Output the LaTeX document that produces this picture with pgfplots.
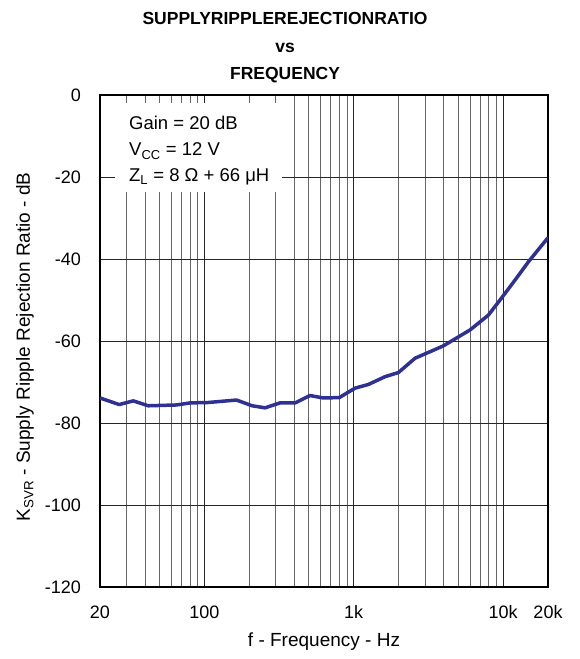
\documentclass[border=0pt]{standalone}
\usepackage{pgfplots}
\pgfplotsset{compat=1.18}
\usepackage{fontspec}
\setmainfont{Liberation Sans}
\definecolor{curve}{HTML}{2E3192}
\begin{document}
\begin{tikzpicture}
\useasboundingbox (-100pt,-72pt) rectangle (479pt,587pt);
\begin{axis}[
  at={(0pt,0pt)}, anchor=south west,
  scale only axis, width=448pt, height=492pt,
  xmode=log, xmin=20, xmax=20000, ymin=-120, ymax=0,
  log basis x=10,
  xtick={20,100,1000,10000,20000},
  xticklabels={20,100,1k,10k,20k},
  ytick={-120,-100,-80,-60,-40,-20,0},
  yticklabels={-120,-100,-80,-60,-40,-20,0},
  minor xtick={30,40,50,60,70,80,90,200,300,400,500,600,700,800,900,2000,3000,4000,5000,6000,7000,8000,9000},
  xmajorgrids, xminorgrids, ymajorgrids,
  major grid style={black!85, line width=0.7pt},
  minor grid style={black!60, line width=0.7pt},
  major tick length=0pt, minor tick length=0pt,
  axis line style={line width=1.8pt},
  tick label style={font=\fontsize{18}{21}\selectfont},
  xticklabel style={anchor=center, yshift=-25pt},
  yticklabel style={anchor=east, inner sep=0pt, xshift=-19pt},
  xlabel={f - Frequency - Hz},
  xlabel style={at={(axis description cs:0.5,0)}, anchor=center, yshift=-55pt, font=\fontsize{19}{22}\selectfont},
  ylabel={K\textsubscript{SVR} - Supply Ripple Rejection Ratio - dB},
  ylabel style={at={(axis description cs:-0.1674,0.488)}, anchor=center, rotate=0, font=\fontsize{19}{22}\selectfont},
  title={\textbf{SUPPLYRIPPLEREJECTIONRATIO}\\\textbf{vs}\\\textbf{FREQUENCY}},
  title style={at={(axis description cs:0.413,1)}, anchor=base, yshift=9.2pt, align=center, inner sep=0pt, font=\fontsize{17.5}{27.5}\selectfont},
]
\addplot[curve, line width=3.5pt, line join=round] coordinates {
(20,-73.9)
(26.9,-75.5)
(33.4,-74.6)
(42.1,-75.8)
(65.3,-75.6)
(80.1,-75.1)
(106,-75.0)
(164,-74.4)
(209,-75.8)
(255,-76.3)
(321,-75.1)
(405,-75.1)
(510,-73.3)
(626,-73.9)
(801,-73.8)
(1021,-71.5)
(1254,-70.6)
(1622,-68.7)
(1991,-67.7)
(2576,-64.2)
(3980,-61.2)
(6015,-57.3)
(7970,-53.7)
(9546,-50.0)
(12000,-45.2)
(14780,-40.7)
(20000,-34.8)
};
\node[fill=white, anchor=north west, inner sep=0pt, minimum width=167pt, minimum height=89pt] at (rel axis cs:0.0335,0.9837) {};
\node[anchor=base west, align=left, inner sep=0pt, font=\fontsize{18.5}{26}\selectfont] at (rel axis cs:0.0647,0.8232)
 {Gain = 20 dB\\V\textsubscript{CC} = 12 V\\Z\textsubscript{L} = 8 Ω + 66 μH};
\end{axis}
\end{tikzpicture}
\end{document}
